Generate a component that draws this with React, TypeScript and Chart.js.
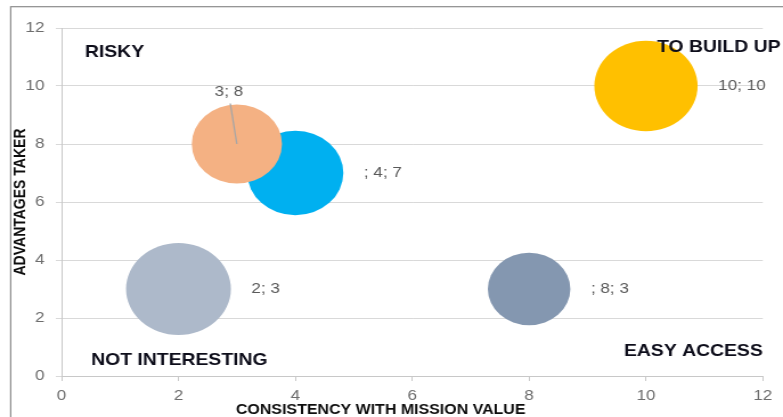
import React, { useEffect, useRef } from "react";
import { Chart, registerables } from "chart.js";

Chart.register(...registerables);

// ---- data ----
const xValues = [10, 4, 3, 2, 8];
const yValues = [10, 7, 8, 3, 3];
const bubbleSizes = [9.7, 8.4, 7.4, 10, 6.2];
const labelPrefixes = ["", "; ", "", "", "; "];
const bubbleColors = ["#FFC000", "#00B0F0", "#F4B183", "#ADB9CA", "#8497B0"];
const labelPlacement = ["right", "right", "above", "right", "right"];

const xMin = 0;
const xMax = 12;
const yMin = 0;
const yMax = 12;
const tickStep = 2;

const xTitle = "CONSISTENCY WITH MISSION VALUE";
const yTitle = "ADVANTAGES TAKER";

const quadrantTexts = ["RISKY", "TO BUILD UP", "NOT INTERESTING", "EASY ACCESS"];
const quadrantX = [0.4, 10.19, 0.505, 12.0];
const quadrantY = [11.15, 11.32, 0.556, 0.853];
const quadrantAlign = ["left", "left", "left", "right"];

// ---- sizing / styles ----
const CANVAS_W = 687; // drawn width; displayed stretched to 783 px like the reference
const CANVAS_H = 417;
const DISPLAY_W = 783;
const MAX_RADIUS = 46;
const FONT = "'Liberation Sans', Arial, sans-serif";

const maxSize = Math.max(...bubbleSizes);

const overlayPlugin = {
  id: "overlay",
  beforeDraw(chart: any) {
    const ctx = chart.ctx;
    ctx.save();
    ctx.strokeStyle = "#8c8c8c";
    ctx.lineWidth = 1.2;
    ctx.strokeRect(9.4, 6.7, 2000, 2000);
    ctx.restore();
  },
  afterDatasetsDraw(chart: any) {
    const ctx = chart.ctx;
    const meta = chart.getDatasetMeta(0);
    const xs = chart.scales.x;
    const ys = chart.scales.y;
    ctx.save();
    // data labels
    ctx.font = `15px ${FONT}`;
    ctx.fillStyle = "#595959";
    ctx.textBaseline = "middle";
    meta.data.forEach((el: any, i: number) => {
      const r = el.options.radius;
      const text = `${labelPrefixes[i]}${xValues[i]}; ${yValues[i]}`;
      if (labelPlacement[i] === "above") {
        ctx.strokeStyle = "#a6a6a6";
        ctx.lineWidth = 1.3;
        ctx.beginPath();
        ctx.moveTo(el.x - 5.8, el.y - 40.5);
        ctx.lineTo(el.x, el.y);
        ctx.stroke();
        ctx.textAlign = "center";
        ctx.fillText(text, el.x - 7, el.y - 52.5);
      } else {
        ctx.textAlign = "left";
        ctx.fillText(text, el.x + r + 18, el.y);
      }
    });
    // quadrant labels
    ctx.font = `bold 17px ${FONT}`;
    ctx.fillStyle = "#0d0d1a";
    quadrantTexts.forEach((t, i) => {
      ctx.textAlign = quadrantAlign[i] as CanvasTextAlign;
      ctx.fillText(t, xs.getPixelForValue(quadrantX[i]), ys.getPixelForValue(quadrantY[i]));
    });
    // x axis title
    ctx.font = `bold 14px ${FONT}`;
    ctx.fillStyle = "#0d0d0d";
    ctx.textAlign = "center";
    ctx.fillText(xTitle, 334, 410);
    ctx.restore();
  },
};

export default function App() {
  const canvasRef = useRef<HTMLCanvasElement | null>(null);

  useEffect(() => {
    if (!canvasRef.current) return;
    const points = xValues.map((x, i) => ({
      x,
      y: yValues[i],
      r: MAX_RADIUS * Math.sqrt(bubbleSizes[i] / maxSize),
    }));
    const chart = new Chart(canvasRef.current, {
      type: "bubble",
      data: {
        datasets: [
          {
            label: "Positioning",
            data: points,
            backgroundColor: bubbleColors,
            borderWidth: 0,
            clip: false,
          } as any,
        ],
      },
      options: {
        animation: false,
        responsive: false,
        devicePixelRatio: 1,
        layout: { autoPadding: false, padding: { left: 0, top: 28, right: 17.7, bottom: 0 } },
        plugins: {
          legend: { display: false },
          tooltip: { enabled: false },
        },
        scales: {
          x: {
            type: "linear",
            min: xMin,
            max: xMax,
            afterFit: (s: any) => {
              s.height = 41;
            },
            ticks: {
              stepSize: tickStep,
              padding: 6,
              color: "#6d6d6d",
              font: { family: FONT, size: 15 },
            },
            grid: {
              drawOnChartArea: false,
              drawTicks: true,
              tickLength: 5,
              color: "#c8c8c8",
            },
            border: { display: true, color: "#c8c8c8", width: 1 },
          },
          y: {
            type: "linear",
            min: yMin,
            max: yMax,
            afterFit: (s: any) => {
              s.width = 54;
            },
            ticks: {
              stepSize: tickStep,
              padding: 10,
              color: "#6d6d6d",
              font: { family: FONT, size: 15 },
            },
            grid: {
              color: "#d9d9d9",
              tickLength: 5,
            },
            border: { display: true, color: "#c8c8c8", width: 1 },
            title: {
              display: true,
              text: yTitle,
              color: "#0d0d0d",
              font: { family: FONT, size: 14, weight: "bold", lineHeight: 1 },
              padding: { top: 11.5, bottom: 0 },
            },
          },
        },
      },
      plugins: [overlayPlugin],
    });
    return () => chart.destroy();
  }, []);

  return (
    <div style={{ position: "absolute", left: 0, top: 0, width: DISPLAY_W, height: CANVAS_H, background: "#fff" }}>
      <canvas
        ref={canvasRef}
        width={CANVAS_W}
        height={CANVAS_H}
        style={{ width: `${DISPLAY_W}px`, height: `${CANVAS_H}px`, display: "block" }}
      />
    </div>
  );
}
